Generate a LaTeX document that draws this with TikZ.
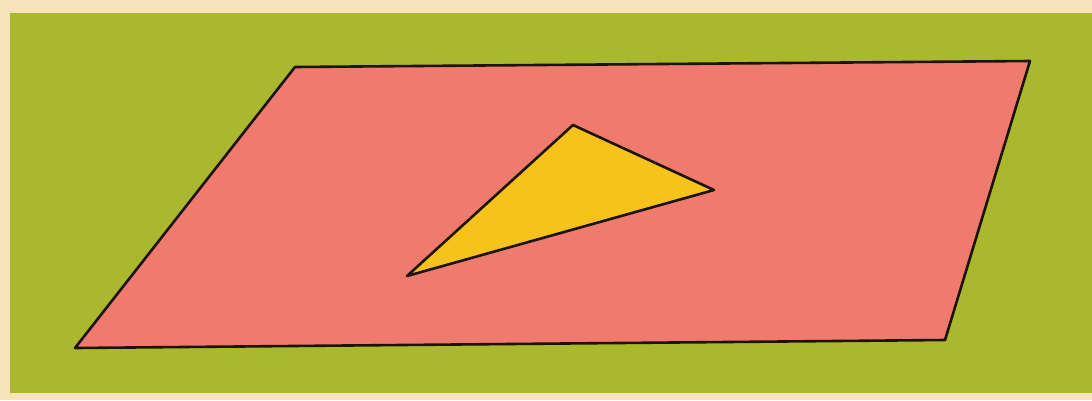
\documentclass[tikz,border=0pt]{standalone}
\begin{document}
\begin{tikzpicture}[x=1pt,y=-1pt,line join=round,
  outline/.style={draw=black!85!brown,line width=2.6pt}]
\definecolor{cream}{HTML}{F7E3B8}
\definecolor{grass}{HTML}{A9B82C}
\definecolor{salmon}{HTML}{EF7B6E}
\definecolor{sun}{HTML}{F6C31C}
\useasboundingbox (0,0) rectangle (1092,400);
\fill[cream] (0,0) rectangle (1092,400);
\fill[grass] (10,13) rectangle (1092,393);
\coordinate (p1) at (295,67);
\coordinate (p2) at (1030,61);
\coordinate (p3) at (945,340);
\coordinate (p4) at (75,348);
\filldraw[fill=salmon,outline] (p1) -- (p2) -- (p3) -- (p4) -- cycle;
\coordinate (t1) at (573,125);
\coordinate (t2) at (714,190);
\coordinate (t3) at (407,276);
\filldraw[fill=sun,outline] (t1) -- (t2) -- (t3) -- cycle;
\end{tikzpicture}
\end{document}
